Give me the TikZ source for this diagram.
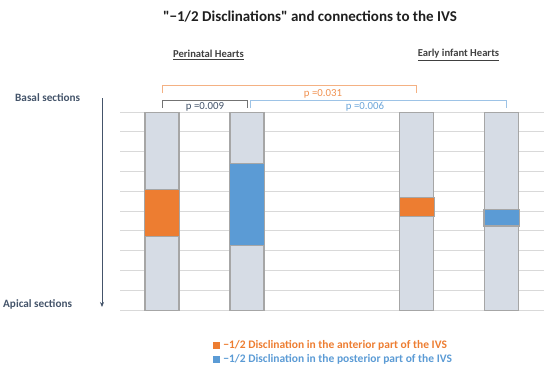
\documentclass[tikz,border=0pt]{standalone}
\usepackage{fontspec}
\setmainfont{Carlito}
\usetikzlibrary{arrows.meta, positioning}

\definecolor{antorange}{HTML}{ED7D31}
\definecolor{postblue}{HTML}{5B9BD5}
\definecolor{lightorange}{HTML}{F4B183}
\definecolor{lightblue}{HTML}{9DC3E6}
\definecolor{slate}{HTML}{44546A}
\definecolor{barfill}{HTML}{D6DCE5}
\definecolor{barline}{HTML}{A6A6A6}
\definecolor{gridgray}{HTML}{D9D9D9}

\begin{document}
\begin{tikzpicture}[
        x=1pt, y=-1pt,
        hbar/.style={draw=barline, fill=barfill, line width=1.1pt,
                     minimum width=34pt, minimum height=198pt,
                     inner sep=0pt, anchor=north},
        hseg/.style={draw=barline, line width=1.1pt},
        gline/.style={gridgray, line width=0.9pt},
        brace/.style={line width=0.9pt},
        pval/.style={font=\fontsize{10.8}{13}\selectfont, inner sep=0pt},
        sidelab/.style={font=\bfseries\fontsize{11.2}{13}\selectfont, text=slate,
                        inner sep=0pt, anchor=west},
        grouplab/.style={font=\bfseries\fontsize{10.6}{13}\selectfont,
                         text=black!75, inner sep=0pt},
        legsq/.style={minimum size=7pt, inner sep=0pt},
        legtext/.style={font=\bfseries\fontsize{11.5}{13}\selectfont,
                        inner sep=0pt, anchor=west},
        arrow/.style={-{Stealth[length=5pt, width=4pt]}, slate, line width=1pt}
    ]
        \useasboundingbox (0,0) rectangle (550,373);

        % title and group headings
        \node[font=\bfseries\fontsize{15}{18}\selectfont, text=black!88] (title) at (310,17)
            {\textquotedbl−1/2 Disclinations\textquotedbl{} and connections to the IVS};
        \node[grouplab] (peri) at (208.5,55) {\underline{Perinatal Hearts}};
        \node[grouplab] (early) at (458.5,55) {\underline{Early infant Hearts}};

        % section axis
        \node[sidelab] (basal) at (15,98) {Basal sections};
        \node[sidelab] (apical) at (3,304) {Apical sections};
        \coordinate (axtop) at (102,98);
        \coordinate (axbot) at (102,307);
        \draw[arrow] (axtop) -- (axbot);

        % grid
        \foreach \k in {0,...,10}
            \draw[gline] (120,112+19.8*\k) -- (544,112+19.8*\k);

        % bars
        \node[hbar] (b1) at (162,112) {};
        \node[hbar] (b2) at (247,112) {};
        \node[hbar] (b3) at (416.7,112) {};
        \node[hbar] (b4) at (501.5,112) {};
        \draw[hseg, fill=antorange] (b1.west |- 0,189.3) rectangle (b1.east |- 0,236.3);
        \draw[hseg, fill=postblue] (b2.west |- 0,163.7) rectangle (b2.east |- 0,245.7);
        \draw[hseg, fill=antorange] (b3.west |- 0,197.7) rectangle (b3.east |- 0,216.7);
        \draw[hseg, fill=postblue] (b4.west |- 0,209.3) rectangle (b4.east |- 0,226);

        % brackets with p values
        \draw[brace, lightorange] (b1.north |- 0,93) -- (b1.north |- 0,85.5)
            -- (b3.north |- 0,85.5) -- (b3.north |- 0,93);
        \draw[brace, black!55] (b1.north |- 0,108) -- (b1.north |- 0,100.5)
            -- (b2.north |- 0,100.5) -- (b2.north |- 0,108);
        \draw[brace, lightblue] ([xshift=3pt]b2.north |- 0,108) -- ([xshift=3pt]b2.north |- 0,100.5)
            -- ([xshift=5pt]b4.north |- 0,100.5) -- ([xshift=5pt]b4.north |- 0,108);
        \node[pval, text=antorange!85] (p031) at (323,94) {p =0.031};
        \node[pval, text=slate] (p009) at (205,106.5) {p =0.009};
        \node[pval, text=postblue!90] (p006) at (365,106.5) {p =0.006};

        % legend
        \node[legsq, fill=antorange] (sqant) at (216,345) {};
        \node[legtext, text=antorange, right=3.5pt of sqant] (legant)
            {−1/2 Disclination in the anterior part of the IVS};
        \node[legsq, fill=postblue] (sqpost) at (216,359.5) {};
        \node[legtext, text=postblue, right=3.5pt of sqpost] (legpost)
            {−1/2 Disclination in the posterior part of the IVS};
    \end{tikzpicture}
\end{document}
